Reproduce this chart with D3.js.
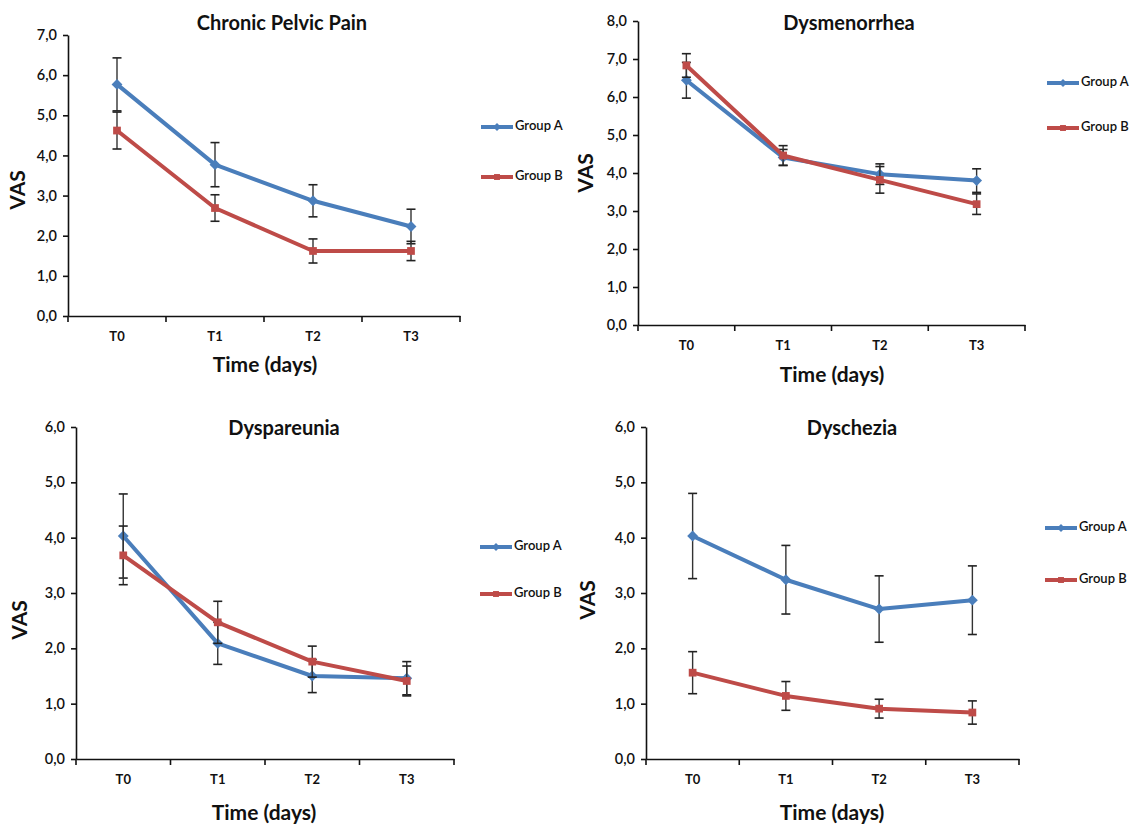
<!DOCTYPE html>
<html>
<head>
<meta charset="utf-8">
<script src="https://cdn.jsdelivr.net/npm/d3@7"></script>
<style>
  body { margin: 0; background: #fff; }
  svg text { font-family: Lato, "Open Sans", "Liberation Sans", sans-serif; fill: #111; }
</style>
</head>
<body>
<div id="chart"></div>
<script>
// values (VAS means and SD bars)
const times = ["T0", "T1", "T2", "T3"];
const panelTitles = ["Chronic Pelvic Pain", "Dysmenorrhea", "Dyspareunia", "Dyschezia"];
const yMaxes = [7, 8, 6, 6];
const seriesNames = ["Group A", "Group B"];

const groupA = [
    [5.77, 3.77, 2.87, 2.23],
    [6.44, 4.41, 3.97, 3.80],
    [4.03, 2.09, 1.50, 1.46],
    [4.03, 3.24, 2.71, 2.87]
];
const groupAErr = [
    [0.66, 0.55, 0.40, 0.43],
    [0.47, 0.21, 0.27, 0.31],
    [0.76, 0.38, 0.30, 0.30],
    [0.77, 0.62, 0.60, 0.62]
];
const groupB = [
    [4.62, 2.69, 1.62, 1.62],
    [6.83, 4.46, 3.82, 3.18],
    [3.68, 2.47, 1.76, 1.41],
    [1.56, 1.14, 0.91, 0.84]
];
const groupBErr = [
    [0.46, 0.33, 0.30, 0.24],
    [0.31, 0.26, 0.35, 0.27],
    [0.53, 0.38, 0.28, 0.27],
    [0.38, 0.26, 0.17, 0.21]
];

const colors = ["#4A7EBB", "#BE4B48"];

// where each panel sits on the page
const layout = [
    {left: 68, right: 460, top: 35, bottom: 316, titleX: 282, titleY: 25, vasX: 20, vasY: 190, timeX: 265, timeY: 367, legX: 481, legY: [127, 177]},
    {left: 638, right: 1025, top: 21, bottom: 325, titleX: 849, titleY: 25, vasX: 588, vasY: 173, timeX: 832, timeY: 377, legX: 1047, legY: [83, 128]},
    {left: 76, right: 454, top: 427, bottom: 759, titleX: 284, titleY: 430, vasX: 22, vasY: 620, timeX: 264, timeY: 815, legX: 480, legY: [547, 594]},
    {left: 646, right: 1019, top: 427, bottom: 759, titleX: 852, titleY: 430, vasX: 590, vasY: 600, timeX: 832, timeY: 815, legX: 1045, legY: [528, 580]}
];

const svg = d3.select("#chart").append("svg")
    .attr("width", 1132)
    .attr("height", 827);

const commaFmt = d3.formatLocale({decimal: ",", thousands: ".", grouping: [3], currency: ["", ""]}).format(".1f");

const diamond = d3.symbol().type(d3.symbolDiamond2).size(75);
const square = d3.symbol().type(d3.symbolSquare).size(60);

panelTitles.forEach(function (title, p) {
    let L = layout[p];
    let g = svg.append("g");

    let x = d3.scaleBand()
        .domain(times)
        .range([L.left, L.right]);

    let y = d3.scaleLinear()
        .domain([0, yMaxes[p]])
        .range([L.bottom, L.top]);

    let cx = d => x(d) + x.bandwidth() / 2;

    // y axis
    let yAxis = g.append("g")
        .attr("transform", `translate(${L.left},0)`)
        .call(d3.axisLeft(y)
            .tickValues(d3.range(0, yMaxes[p] + 1))
            .tickFormat(commaFmt)
            .tickSize(5)
            .tickSizeOuter(0)
            .tickPadding(6));
    yAxis.selectAll("path, line").attr("stroke", "#111").attr("stroke-width", 1.6);
    yAxis.selectAll("text").attr("font-size", 14.5).attr("font-weight", 600);

    // x axis (labels centred, ticks at band edges)
    let xAxis = g.append("g")
        .attr("transform", `translate(0,${L.bottom})`)
        .call(d3.axisBottom(x).tickSize(0).tickSizeOuter(0).tickPadding(16));
    xAxis.select("path").attr("stroke", "#111").attr("stroke-width", 1.6);
    xAxis.selectAll("text").attr("font-size", 13).attr("font-weight", 700);
    xAxis.selectAll("line.edge")
        .data(d3.range(times.length + 1))
        .join("line")
        .attr("class", "edge")
        .attr("x1", i => L.left + i * x.step())
        .attr("x2", i => L.left + i * x.step())
        .attr("y1", 0)
        .attr("y2", 6)
        .attr("stroke", "#111")
        .attr("stroke-width", 1.6);

    // titles
    g.append("text")
        .attr("x", L.titleX)
        .attr("y", L.titleY)
        .attr("text-anchor", "middle")
        .attr("dominant-baseline", "middle")
        .attr("font-size", 20)
        .attr("font-weight", 700)
        .text(title);

    g.append("text")
        .attr("transform", `translate(${L.vasX},${L.vasY}) rotate(-90)`)
        .attr("text-anchor", "middle")
        .attr("dominant-baseline", "middle")
        .attr("font-size", 21)
        .attr("font-weight", 700)
        .text("VAS");

    g.append("text")
        .attr("x", L.timeX)
        .attr("y", L.timeY)
        .attr("text-anchor", "middle")
        .attr("dominant-baseline", "middle")
        .attr("font-size", 21)
        .attr("font-weight", 700)
        .text("Time (days)");

    // series
    let allVals = [groupA[p], groupB[p]];
    let allErrs = [groupAErr[p], groupBErr[p]];
    let line = d3.line()
        .x((d, i) => cx(times[i]))
        .y(d => y(d));

    allVals.forEach(function (vals, s) {
        let errs = allErrs[s];
        let sg = g.append("g");

        sg.append("path")
            .datum(vals)
            .attr("d", line)
            .attr("fill", "none")
            .attr("stroke", colors[s])
            .attr("stroke-width", 4)
            .attr("stroke-linejoin", "round");

        // error bars
        vals.forEach(function (v, i) {
            let xx = cx(times[i]);
            let lo = y(v - errs[i]), hi = y(v + errs[i]);
            sg.append("line")
                .attr("x1", xx).attr("x2", xx)
                .attr("y1", lo).attr("y2", hi)
                .attr("stroke", "#333").attr("stroke-width", 1.4);
            [lo, hi].forEach(yy =>
                sg.append("line")
                    .attr("x1", xx - 4.5).attr("x2", xx + 4.5)
                    .attr("y1", yy).attr("y2", yy)
                    .attr("stroke", "#222").attr("stroke-width", 1.6)
            );
        });

        sg.selectAll("path.mark")
            .data(vals)
            .join("path")
            .attr("class", "mark")
            .attr("d", s === 0 ? diamond : square)
            .attr("transform", (d, i) => `translate(${cx(times[i])},${y(d)})`)
            .attr("fill", colors[s]);

        // legend entry
        let ly = L.legY[s];
        sg.append("line")
            .attr("x1", L.legX).attr("x2", L.legX + 32)
            .attr("y1", ly).attr("y2", ly)
            .attr("stroke", colors[s]).attr("stroke-width", 4);
        sg.append("path")
            .attr("d", (s === 0 ? d3.symbol().type(d3.symbolDiamond2).size(40) : d3.symbol().type(d3.symbolSquare).size(35))())
            .attr("transform", `translate(${L.legX + 16},${ly})`)
            .attr("fill", colors[s]);
        sg.append("text")
            .attr("x", L.legX + 34)
            .attr("y", ly)
            .attr("dominant-baseline", "middle")
            .attr("font-size", 13)
            .attr("font-weight", 600)
            .text(seriesNames[s]);
    });
});
</script>
</body>
</html>
